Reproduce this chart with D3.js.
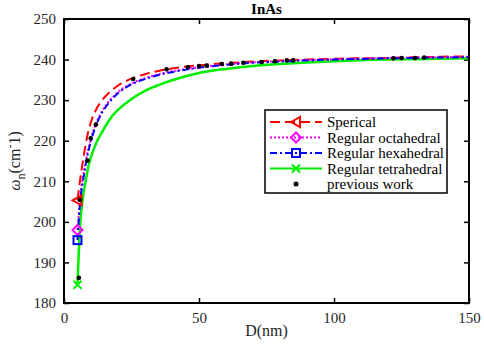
<!DOCTYPE html>
<html>
<head>
<meta charset="utf-8">
<script src="https://cdn.jsdelivr.net/npm/d3@7"></script>
<style>
  body { margin: 0; background: #fff; }
  svg text { font-family: "Liberation Serif", "DejaVu Serif", serif; }
  .axis text { font-size: 15px; fill: #262626; }
  .axis path, .axis line { stroke: #000; }
</style>
</head>
<body>
<svg id="chart"></svg>
<script>
var sizes = [5, 6, 7, 8, 9, 10, 12, 14, 16, 18, 20, 25, 30, 35, 40, 50, 60, 70, 80, 90, 100, 120, 140, 150]

var spherical   = [205.3, 210.5, 215.0, 219.0, 222.3, 224.6, 227.8, 229.9, 231.4, 232.6, 233.6, 235.3, 236.4, 237.2, 237.8, 238.6, 239.1, 239.5, 239.8, 240.0, 240.2, 240.4, 240.7, 240.8]
var octahedral  = [198.0, 206.2, 211.0, 214.8, 218.0, 220.6, 224.5, 227.2, 229.2, 230.7, 232.0, 234.1, 235.4, 236.4, 237.1, 238.1, 238.8, 239.3, 239.6, 239.9, 240.1, 240.4, 240.6, 240.7]
var hexahedral  = [195.5, 205.0, 210.0, 214.0, 217.3, 220.0, 224.0, 226.8, 228.8, 230.4, 231.7, 233.9, 235.2, 236.2, 236.9, 238.0, 238.7, 239.2, 239.5, 239.8, 240.0, 240.3, 240.5, 240.6]
var tetrahedral = [184.5, 199.5, 206.0, 210.0, 213.5, 216.0, 219.5, 222.0, 224.3, 226.2, 227.6, 230.3, 232.3, 233.7, 234.9, 236.7, 237.7, 238.4, 238.9, 239.3, 239.6, 240.0, 240.2, 240.3]

var prevD = [5.5, 5.9, 8.7, 9.9, 11.8, 25.6, 38, 45.9, 50, 52.8, 58.4, 61.9, 66.4, 73.2, 78.1, 82.5, 84.9, 122, 125, 130, 133.4]
var prevW = [186.2, 205.4, 215.1, 220.6, 224.0, 235.2, 237.6, 238.1, 238.4, 238.5, 238.9, 239.0, 239.2, 239.4, 239.6, 239.8, 239.8, 240.3, 240.4, 240.4, 240.5]

var xTicks = [0, 50, 100, 150]
var yTicks = [180, 190, 200, 210, 220, 230, 240, 250]

var series = [
  { name: "Sperical", values: spherical, color: "#ff0000", dash: "10,5", marker: "triangle" },
  { name: "Regular octahedral", values: octahedral, color: "#ff00ff", dash: "2,2", marker: "diamond" },
  { name: "Regular hexahedral", values: hexahedral, color: "#0000ff", dash: "7,3,2,3", marker: "square" },
  { name: "Regular tetrahedral", values: tetrahedral, color: "#00ee00", dash: null, marker: "cross" }
]

var width = 484
var height = 349
var margin = { top: 19, right: 15, bottom: 46, left: 64 }

var svg = d3.select("#chart")
  .attr("width", width)
  .attr("height", height)

var x = d3.scaleLinear()
  .domain([0, 150])
  .range([margin.left, width - margin.right])

var y = d3.scaleLinear()
  .domain([180, 250])
  .range([height - margin.bottom, margin.top])

var clip = svg.append("clipPath").attr("id", "clip")
  .append("rect")
  .attr("x", x(0)).attr("y", y(250))
  .attr("width", x(150) - x(0)).attr("height", y(180) - y(250))

// axes, ticks pointing inward on all four sides
svg.append("g")
  .attr("class", "axis")
  .attr("transform", "translate(0," + y(180) + ")")
  .call(d3.axisBottom(x).tickValues(xTicks).tickSizeInner(-5).tickSizeOuter(0).tickPadding(9))

svg.append("g")
  .attr("class", "axis")
  .attr("transform", "translate(" + x(0) + ",0)")
  .call(d3.axisLeft(y).tickValues(yTicks).tickSizeInner(-5).tickSizeOuter(0).tickPadding(8))

svg.append("g")
  .attr("class", "axis")
  .attr("transform", "translate(0," + y(250) + ")")
  .call(d3.axisTop(x).tickValues(xTicks).tickSizeInner(-5).tickSizeOuter(0).tickFormat(""))

svg.append("g")
  .attr("class", "axis")
  .attr("transform", "translate(" + x(150) + ",0)")
  .call(d3.axisRight(y).tickValues(yTicks).tickSizeInner(-5).tickSizeOuter(0).tickFormat(""))

svg.selectAll(".axis line").attr("stroke-width", 1.5)
svg.selectAll(".axis path").remove()

var line = d3.line()
  .x(function(d) { return x(d[0]) })
  .y(function(d) { return y(d[1]) })
  .curve(d3.curveMonotoneX)

var plot = svg.append("g").attr("clip-path", "url(#clip)")

function drawMarker(g, type, color, cx, cy) {
  if (type == "triangle") {
    g.append("path")
      .attr("d", "M" + (cx - 5) + "," + cy + "L" + (cx + 4) + "," + (cy - 5) + "L" + (cx + 4) + "," + (cy + 5) + "Z")
      .attr("fill", "none").attr("stroke", color).attr("stroke-width", 2)
  } else if (type == "diamond") {
    g.append("path")
      .attr("d", "M" + cx + "," + (cy - 5) + "L" + (cx + 5) + "," + cy + "L" + cx + "," + (cy + 5) + "L" + (cx - 5) + "," + cy + "Z")
      .attr("fill", "none").attr("stroke", color).attr("stroke-width", 2)
  } else if (type == "square") {
    g.append("rect")
      .attr("x", cx - 4).attr("y", cy - 4).attr("width", 8).attr("height", 8)
      .attr("fill", "none").attr("stroke", color).attr("stroke-width", 2)
  } else if (type == "cross") {
    g.append("path")
      .attr("d", "M" + (cx - 4) + "," + (cy - 4) + "L" + (cx + 4) + "," + (cy + 4) + "M" + (cx - 4) + "," + (cy + 4) + "L" + (cx + 4) + "," + (cy - 4))
      .attr("fill", "none").attr("stroke", color).attr("stroke-width", 2)
  } else {
    g.append("circle")
      .attr("cx", cx).attr("cy", cy).attr("r", 2.5)
      .attr("fill", color)
  }
}

// draw tetrahedral first so it sits underneath like the reference
var order = [3, 0, 1, 2]
order.forEach(function(i) {
  var s = series[i]
  var pts = sizes.map(function(d, j) { return [d, s.values[j]] })
  plot.append("path")
    .datum(pts)
    .attr("d", line)
    .attr("fill", "none")
    .attr("stroke", s.color)
    .attr("stroke-width", i == 3 ? 2.5 : 2)
    .attr("stroke-dasharray", s.dash)
})

series.forEach(function(s) {
  drawMarker(svg, s.marker, s.color, x(sizes[0]), y(s.values[0]))
})

svg.append("g")
  .selectAll("circle")
  .data(prevD)
  .enter().append("circle")
  .attr("cx", function(d) { return x(d) })
  .attr("cy", function(d, i) { return y(prevW[i]) })
  .attr("r", 2.3)
  .attr("fill", "#000")

// frame
svg.append("rect")
  .attr("x", x(0)).attr("y", y(250))
  .attr("width", x(150) - x(0)).attr("height", y(180) - y(250))
  .attr("fill", "none").attr("stroke", "#000").attr("stroke-width", 2)

// title and labels
svg.append("text")
  .attr("x", (x(0) + x(150)) / 2)
  .attr("y", 14)
  .attr("text-anchor", "middle")
  .attr("font-weight", "bold")
  .attr("font-size", 15)
  .attr("fill", "#000")
  .text("InAs")

svg.append("text")
  .attr("x", (x(0) + x(150)) / 2)
  .attr("y", 336)
  .attr("text-anchor", "middle")
  .attr("font-size", 16)
  .attr("fill", "#262626")
  .text("D(nm)")

var yl = svg.append("text")
  .attr("transform", "translate(20," + ((y(180) + y(250)) / 2) + ") rotate(-90)")
  .attr("text-anchor", "middle")
  .attr("font-size", 16)
  .attr("fill", "#262626")
yl.append("tspan").attr("font-style", "italic").text("ω")
yl.append("tspan").attr("font-size", 12).attr("dy", 5).text("n")
yl.append("tspan").attr("dy", -5).text("(cm")
yl.append("tspan").attr("font-size", 12).attr("dy", -6).text("-")
yl.append("tspan").attr("dy", 6).text("1)")

// legend
var legend = svg.append("g")
legend.append("rect")
  .attr("x", 265).attr("y", 110)
  .attr("width", 182).attr("height", 83)
  .attr("fill", "#fff").attr("stroke", "#000").attr("stroke-width", 1.5)

var legendNames = series.map(function(s) { return s.name }).concat(["previous work"])
legendNames.forEach(function(name, i) {
  var ly = 122 + i * 15.5
  var s = series[i]
  if (s) {
    legend.append("line")
      .attr("x1", 270).attr("x2", 322)
      .attr("y1", ly).attr("y2", ly)
      .attr("stroke", s.color).attr("stroke-width", 2)
      .attr("stroke-dasharray", s.dash)
    drawMarker(legend, s.marker, s.color, 296, ly)
  } else {
    drawMarker(legend, "dot", "#000", 296, ly)
  }
  legend.append("text")
    .attr("x", 327).attr("y", ly + 5)
    .attr("font-size", 15)
    .attr("fill", "#000")
    .text(name)
})
</script>
</body>
</html>
